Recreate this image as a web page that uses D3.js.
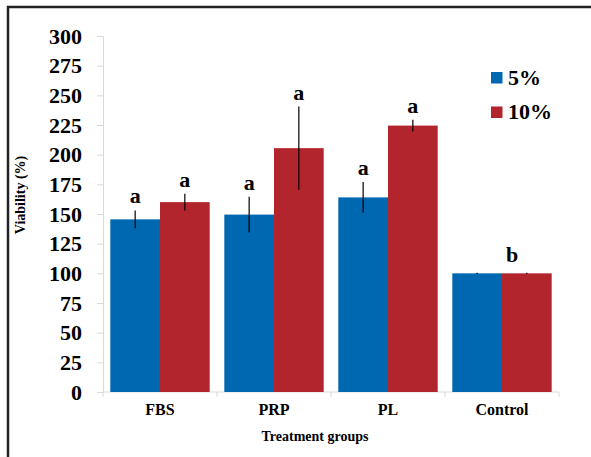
<!DOCTYPE html>
<html>
<head>
<meta charset="utf-8">
<script src="https://cdn.jsdelivr.net/npm/d3@7"></script>
<style>
  html, body { margin: 0; padding: 0; background: #fff; }
  svg { display: block; }
  text { font-family: "Liberation Serif", "Times New Roman", serif; font-weight: bold; fill: #000; }
</style>
</head>
<body>
<script>
// Cell viability by treatment group and supplement concentration
const categories = ["FBS", "PRP", "PL", "Control"];
const series = ["5%", "10%"];
const mean5 = [145.5, 149.5, 164, 100];
const mean10 = [160, 205.5, 224.5, 100];
const sd5 = [7.5, 15, 13, 0.5];
const sd10 = [7, 35, 5, 0.5];
const letters5 = ["a", "a", "a", null];
const letters10 = ["a", "a", "a", null];
const groupLetters = [null, null, null, "b"];
const yTicks = [0, 25, 50, 75, 100, 125, 150, 175, 200, 225, 250, 275, 300];
const colors = ["#0068B0", "#B3252D"];

const W = 591, H = 457;
const svg = d3.select("body").append("svg").attr("width", W).attr("height", H);

// outer frame (top and left edges)
svg.append("path")
  .attr("d", `M8,${H} L8,7 L${W},7`)
  .attr("fill", "none").attr("stroke", "#222").attr("stroke-width", 2.5);

const y = d3.scaleLinear().domain([0, 300]).range([392, 36]);
const x = d3.scaleBand().domain(categories).range([103, 559]).padding(0);
const xs = d3.scaleBand().domain(series).range([0, x.bandwidth()]).paddingInner(0).paddingOuter(0.147);

const rows = categories.map((c, i) => ({
  cat: c,
  vals: [
    { s: series[0], m: mean5[i], sd: sd5[i], letter: letters5[i] },
    { s: series[1], m: mean10[i], sd: sd10[i], letter: letters10[i] }
  ],
  groupLetter: groupLetters[i]
}));

// Y axis
const yAxis = svg.append("g").attr("transform", "translate(103,0)")
  .call(d3.axisLeft(y).tickValues(yTicks).tickSize(6).tickPadding(15));
yAxis.attr("font-family", null);
yAxis.selectAll("path, line").attr("stroke", "#d9d9d9");
yAxis.selectAll("text").style("font-size", "22px").attr("fill", "#000");

// X axis line and group boundary ticks
svg.append("line").attr("x1", 103).attr("x2", 559).attr("y1", 392).attr("y2", 392)
  .attr("stroke", "#d9d9d9");
const bounds = categories.map(c => x(c)).concat([x.range()[1]]);
svg.selectAll(".xtick").data(bounds).enter().append("line")
  .attr("x1", d => d).attr("x2", d => d).attr("y1", 392).attr("y2", 397)
  .attr("stroke", "#d9d9d9");

// Bars
const groups = svg.selectAll(".grp").data(rows).enter().append("g")
  .attr("transform", d => `translate(${x(d.cat)},0)`);

groups.selectAll("rect").data(d => d.vals).enter().append("rect")
  .attr("x", d => xs(d.s))
  .attr("width", xs.bandwidth())
  .attr("y", d => y(d.m))
  .attr("height", d => y(0) - y(d.m))
  .attr("fill", (d, i) => colors[i]);

// Error bars
groups.selectAll(".err").data(d => d.vals).enter().append("line")
  .attr("x1", d => xs(d.s) + xs.bandwidth() / 2)
  .attr("x2", d => xs(d.s) + xs.bandwidth() / 2)
  .attr("y1", d => y(d.m + d.sd))
  .attr("y2", d => y(d.m - d.sd))
  .attr("stroke", "#000").attr("stroke-width", 1.2);

// Significance letters
groups.selectAll(".lt").data(d => d.vals.filter(v => v.letter)).enter().append("text")
  .attr("x", d => xs(d.s) + xs.bandwidth() / 2)
  .attr("y", d => y(d.m + d.sd) - 7)
  .attr("text-anchor", "middle")
  .style("font-size", "22px")
  .text(d => d.letter);

groups.filter(d => d.groupLetter).append("text")
  .attr("x", x.bandwidth() / 2 + 10)
  .attr("y", d => y(d3.max(d.vals, v => v.m + v.sd)) - 11)
  .attr("text-anchor", "middle")
  .style("font-size", "22px")
  .text(d => d.groupLetter);

// Category labels
svg.selectAll(".xl").data(categories).enter().append("text")
  .attr("x", d => x(d) + x.bandwidth() / 2)
  .attr("y", 415)
  .attr("text-anchor", "middle")
  .style("font-size", "16px")
  .text(d => d);

// Axis titles
svg.append("text").attr("x", 315).attr("y", 441).attr("text-anchor", "middle")
  .style("font-size", "14px").text("Treatment groups");
svg.append("text").attr("transform", "translate(25,195) rotate(-90)").attr("text-anchor", "middle")
  .style("font-size", "14px").text("Viability (%)");

// Legend
const legend = svg.append("g").selectAll("g").data(series).enter().append("g")
  .attr("transform", (d, i) => `translate(491,${72 + i * 34.5})`);
legend.append("rect").attr("width", 11.5).attr("height", 11.5)
  .attr("fill", (d, i) => colors[i]);
legend.append("text").attr("x", 17).attr("y", 12.5)
  .style("font-size", "22px").text(d => d);
</script>
</body>
</html>
